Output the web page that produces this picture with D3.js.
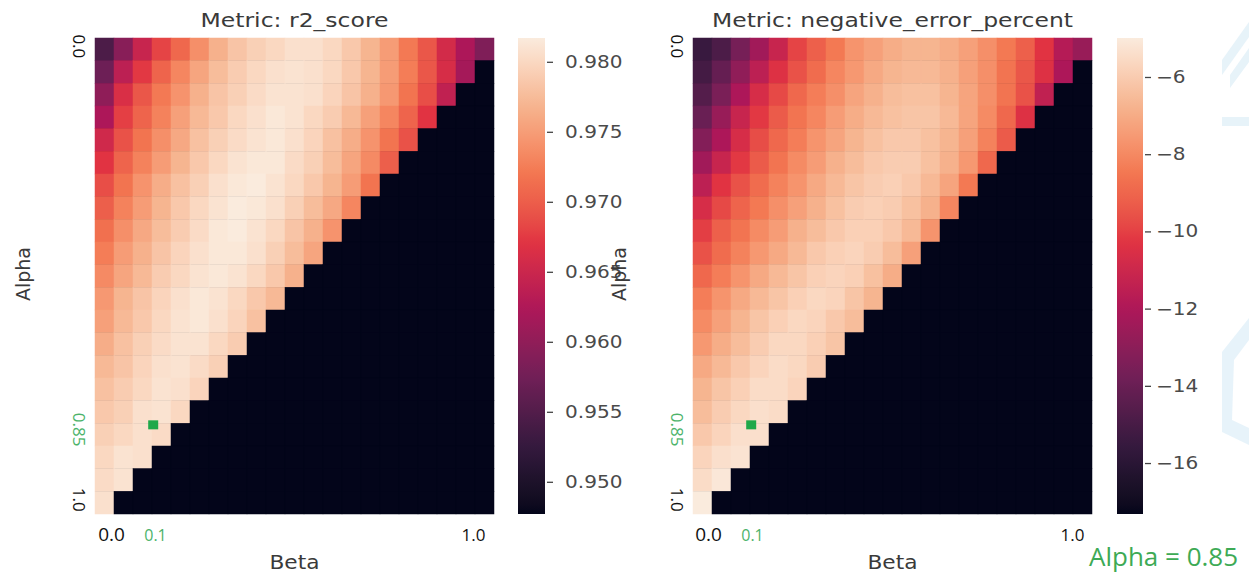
<!DOCTYPE html>
<html><head><meta charset="utf-8">
<script src="https://cdn.jsdelivr.net/npm/d3@7"></script>
<style>body{margin:0;background:#fff;} svg{display:block;}</style>
</head><body>
<svg id="chart" width="1249" height="575"></svg>
<script>
// ---------------- DATA ----------------
const alphas = [0.00,0.05,0.10,0.15,0.20,0.25,0.30,0.35,0.40,0.45,0.50,0.55,0.60,0.65,0.70,0.75,0.80,0.85,0.90,0.95,1.00];
const betas  = [0.00,0.05,0.10,0.15,0.20,0.25,0.30,0.35,0.40,0.45,0.50,0.55,0.60,0.65,0.70,0.75,0.80,0.85,0.90,0.95,1.00];

// r2_score per alpha row (only alpha + beta <= 1 are valid; the rest is drawn at the colour minimum)
const r2Score = [
 [.9545,.9593,.9647,.9681,.9708,.9739,.9766,.9783,.9793,.9800,.9807,.9807,.9800,.9786,.9769,.9749,.9722,.9695,.9657,.9623,.9586],
 [.9572,.9637,.9674,.9705,.9732,.9756,.9776,.9790,.9800,.9807,.9810,.9807,.9800,.9786,.9769,.9749,.9725,.9695,.9661,.9616],
 [.9599,.9664,.9695,.9722,.9742,.9766,.9783,.9793,.9803,.9810,.9810,.9807,.9797,.9783,.9766,.9746,.9718,.9688,.9640],
 [.9623,.9678,.9705,.9729,.9752,.9773,.9786,.9800,.9807,.9814,.9810,.9800,.9790,.9773,.9752,.9732,.9705,.9671],
 [.9654,.9691,.9718,.9739,.9759,.9780,.9793,.9803,.9810,.9814,.9807,.9797,.9780,.9763,.9742,.9718,.9691],
 [.9671,.9705,.9729,.9749,.9769,.9786,.9800,.9810,.9814,.9814,.9803,.9793,.9776,.9756,.9735,.9701],
 [.9688,.9718,.9742,.9763,.9780,.9793,.9807,.9814,.9817,.9810,.9800,.9786,.9769,.9749,.9718],
 [.9701,.9729,.9749,.9769,.9786,.9800,.9810,.9817,.9814,.9807,.9793,.9776,.9759,.9732],
 [.9715,.9739,.9759,.9776,.9790,.9803,.9814,.9817,.9810,.9800,.9783,.9766,.9742],
 [.9725,.9749,.9766,.9783,.9797,.9807,.9814,.9814,.9807,.9793,.9776,.9756],
 [.9735,.9756,.9773,.9790,.9800,.9810,.9814,.9810,.9800,.9786,.9766],
 [.9746,.9769,.9783,.9797,.9807,.9814,.9810,.9800,.9786,.9773],
 [.9752,.9773,.9786,.9800,.9810,.9814,.9807,.9797,.9780],
 [.9763,.9780,.9793,.9803,.9810,.9810,.9800,.9790],
 [.9773,.9783,.9797,.9807,.9810,.9803,.9793],
 [.9780,.9790,.9800,.9810,.9807,.9797],
 [.9786,.9793,.9807,.9810,.9800],
 [.9793,.9800,.9807,.9803],
 [.9800,.9810,.9807],
 [.9803,.9810],
 [.9807]
];

// negative_error_percent per alpha row
const negErrorPercent = [
 [-15.47,-14.85,-13.62,-12.39,-11.16,-9.92,-9.18,-8.44,-7.70,-7.33,-6.96,-6.72,-6.72,-6.96,-7.33,-7.83,-8.44,-9.18,-10.29,-11.77,-12.63],
 [-15.10,-14.11,-12.88,-11.52,-10.42,-9.55,-8.81,-8.07,-7.58,-7.09,-6.72,-6.59,-6.59,-6.84,-7.33,-7.83,-8.57,-9.43,-10.42,-12.02],
 [-14.61,-13.50,-12.02,-10.66,-9.80,-8.94,-8.32,-7.83,-7.21,-6.84,-6.47,-6.35,-6.35,-6.72,-7.21,-7.83,-8.57,-9.55,-11.40],
 [-13.99,-12.63,-11.16,-10.17,-9.31,-8.57,-8.07,-7.46,-6.96,-6.59,-6.35,-6.22,-6.22,-6.59,-7.21,-7.95,-8.94,-10.42],
 [-13.25,-12.02,-10.66,-9.68,-8.94,-8.32,-7.70,-7.21,-6.72,-6.35,-6.10,-6.10,-6.35,-6.72,-7.33,-8.20,-9.31],
 [-12.39,-11.16,-10.17,-9.31,-8.57,-7.95,-7.46,-6.84,-6.47,-6.10,-5.98,-5.98,-6.35,-6.84,-7.58,-8.94],
 [-11.52,-10.29,-9.55,-8.81,-8.20,-7.70,-7.09,-6.59,-6.22,-5.98,-5.85,-6.10,-6.59,-7.21,-8.44],
 [-10.66,-9.80,-9.06,-8.44,-7.83,-7.33,-6.84,-6.35,-5.98,-5.85,-5.98,-6.35,-6.84,-8.07],
 [-10.05,-9.18,-8.57,-7.95,-7.46,-6.84,-6.47,-6.10,-5.85,-5.85,-6.10,-6.59,-7.70],
 [-9.55,-8.81,-8.20,-7.58,-7.09,-6.59,-6.10,-5.85,-5.73,-5.98,-6.47,-7.33],
 [-8.94,-8.32,-7.70,-7.09,-6.59,-6.22,-5.85,-5.73,-5.85,-6.35,-6.96],
 [-8.32,-7.70,-7.09,-6.59,-6.22,-5.85,-5.61,-5.73,-6.22,-6.72],
 [-7.95,-7.33,-6.72,-6.22,-5.85,-5.61,-5.73,-6.10,-6.47],
 [-7.58,-6.96,-6.47,-5.98,-5.61,-5.61,-5.85,-6.22],
 [-7.09,-6.59,-6.10,-5.73,-5.48,-5.61,-5.98],
 [-6.72,-6.22,-5.85,-5.48,-5.48,-5.73],
 [-6.47,-5.98,-5.61,-5.36,-5.48],
 [-6.10,-5.73,-5.36,-5.36],
 [-5.73,-5.36,-5.24],
 [-5.48,-5.11],
 [-4.99]
];

const r2Range = [0.9477, 0.9817];
const negErrRange = [-17.32, -4.99];
const r2Ticks = [0.950, 0.955, 0.960, 0.965, 0.970, 0.975, 0.980];
const negErrTicks = [-16, -14, -12, -10, -8, -6];

const titles = ["Metric: r2_score", "Metric: negative_error_percent"];
const xAxisLabel = "Beta";
const yAxisLabel = "Alpha";
const xTickMarks = [{beta: 0.00, label: "0.0", hl: false}, {beta: 0.10, label: "0.1", hl: true}, {beta: 1.00, label: "1.0", hl: false}];
const yTickMarks = [{alpha: 0.00, label: "0.0", hl: false}, {alpha: 0.85, label: "0.85", hl: true}, {alpha: 1.00, label: "1.0", hl: false}];
const highlight = {alpha: 0.85, beta: 0.10, text: "Alpha = 0.85"};

// rocket colormap stops (seaborn)
const rocketStops = ["#03051a", "#35193e", "#701f57", "#ad1759", "#e13342", "#f37651", "#f6b48f", "#faebdd"];
const rocket = d3.piecewise(d3.interpolateLab, rocketStops);

// ---------------- LAYOUT ----------------
const panels = [
  {data: r2Score, range: r2Range, ticks: r2Ticks, fmt: d3.format(".3f"), title: titles[0],
   x0: 95, x1: 494, cb0: 518, cb1: 545, titleLen: 188, tickOffsets: [7, 13, -11], ylabX: 30, cbLabelX: 17},
  {data: negErrorPercent, range: negErrRange, ticks: negErrTicks, fmt: d => d3.format("d")(d).replace("-", "\u2212"), title: titles[1],
   x0: 693, x1: 1092, cb0: 1117, cb1: 1143, titleLen: 361, tickOffsets: [6, 12, -10], ylabX: 626, cbLabelX: 11}
];
const topY = 38, bottomY = 514;
const green = "#3daa55";
const greenLight = "#4cb36a";

const svg = d3.select("#chart");

// faint background watermark shapes at the right edge
const wm = svg.append("g").attr("fill", "#e3f1f9").attr("opacity", 0.85);
wm.append("polygon").attr("points", "1249,22 1222,60 1222,75 1249,37");
wm.append("polygon").attr("points", "1249,48 1230,75 1230,88 1249,62");
wm.append("rect").attr("x", 1222).attr("y", 117).attr("width", 27).attr("height", 9);
wm.append("polygon").attr("points", "1249,318 1222,352 1222,432 1249,445 1249,428 1232,420 1234,360 1249,340");

panels.forEach(p => {
  const g = svg.append("g");
  const x = d3.scaleBand().domain(betas).range([p.x0, p.x1]);
  const y = d3.scaleBand().domain(alphas).range([topY, bottomY]);
  const color = d3.scaleSequential(rocket).domain(p.range);

  const cells = [];
  alphas.forEach((a, i) => betas.forEach((b, j) => {
    const v = p.data[i][j];
    cells.push({a, b, v: v === undefined ? null : v});
  }));

  // backdrop in the colour of the minimum, so no seams show between cells
  g.append("rect").attr("x", p.x0).attr("y", topY).attr("width", p.x1 - p.x0).attr("height", bottomY - topY)
    .attr("fill", color(p.range[0]));

  g.selectAll("rect.cell").data(cells).join("rect")
    .attr("class", "cell")
    .attr("x", d => x(d.b)).attr("y", d => y(d.a))
    .attr("width", x.bandwidth()).attr("height", y.bandwidth())
    .attr("fill", d => color(d.v === null ? p.range[0] : d.v))
    .attr("stroke", d => color(d.v === null ? p.range[0] : d.v))
    .attr("stroke-width", 0.5);

  // title
  g.append("text").attr("x", (p.x0 + p.x1) / 2).attr("y", 27)
    .attr("text-anchor", "middle").attr("font-family", "DejaVu Sans").attr("font-size", 20)
    .attr("fill", "#3a3a3a").attr("textLength", p.titleLen).attr("lengthAdjust", "spacingAndGlyphs")
    .text(p.title);

  // colorbar
  const gid = "grad" + p.x0;
  const grad = svg.append("defs").append("linearGradient").attr("id", gid)
    .attr("x1", 0).attr("y1", 1).attr("x2", 0).attr("y2", 0);
  d3.range(0, 1.0001, 0.02).forEach(t => grad.append("stop").attr("offset", t).attr("stop-color", rocket(t)));
  g.append("rect").attr("x", p.cb0).attr("y", topY).attr("width", p.cb1 - p.cb0).attr("height", bottomY - topY)
    .attr("fill", `url(#${gid})`);
  const cy = d3.scaleLinear().domain(p.range).range([bottomY, topY]);
  const ax = g.append("g").attr("transform", `translate(${p.cb1},0)`)
    .call(d3.axisRight(cy).tickValues(p.ticks).tickFormat(p.fmt).tickSize(6).tickPadding(6));
  ax.select(".domain").remove();
  ax.selectAll(".tick line").attr("stroke", "#444").attr("stroke-width", 1.3).attr("x1", 2).attr("x2", 8);
  ax.selectAll(".tick text").attr("font-family", "DejaVu Sans").attr("font-size", 17).attr("fill", "#4a4a4a")
    .attr("x", p.cbLabelX).attr("transform", "scale(1.18,1)");

  // y axis label
  g.append("text").attr("transform", `translate(${p.ylabX},${(topY + bottomY) / 2 - 2}) rotate(-90)`)
    .attr("text-anchor", "middle").attr("font-family", "DejaVu Sans").attr("font-size", 19)
    .attr("fill", "#3a3a3a").text(yAxisLabel);
  // x axis label
  g.append("text").attr("x", (p.x0 + p.x1) / 2).attr("y", 569)
    .attr("text-anchor", "middle").attr("font-family", "DejaVu Sans").attr("font-size", 20)
    .attr("fill", "#3a3a3a").attr("textLength", 50).attr("lengthAdjust", "spacingAndGlyphs").text(xAxisLabel);

  // hand-added tick labels
  xTickMarks.forEach((t, k) => {
    g.append("text").attr("x", x(t.beta) + x.bandwidth() / 2 + p.tickOffsets[k]).attr("y", 541)
      .attr("text-anchor", "middle").attr("font-family", "Open Sans").attr("font-size", t.hl ? 16 : (k === 0 ? 19 : 17))
      .attr("fill", t.hl ? greenLight : "#111").text(t.label);
  });
  yTickMarks.forEach(t => {
    const cyy = y(t.alpha) + y.bandwidth() / 2 + (t.hl ? -5 : -3);
    g.append("text").attr("transform", `translate(${p.x0 - 22},${cyy}) rotate(90)`)
      .attr("text-anchor", "middle").attr("font-family", "Open Sans").attr("font-size", 17)
      .attr("fill", t.hl ? greenLight : "#111").text(t.label);
  });

  // highlighted point marker
  g.append("rect")
    .attr("x", x(highlight.beta) + x.bandwidth() * 0.8).attr("y", y(highlight.alpha) - 3)
    .attr("width", 10).attr("height", 9).attr("fill", "#1fa84a");
});

svg.append("text").attr("x", 1089).attr("y", 566).attr("font-family", "Open Sans").attr("font-size", 26)
  .attr("fill", green).text(highlight.text);
</script>
</body></html>
